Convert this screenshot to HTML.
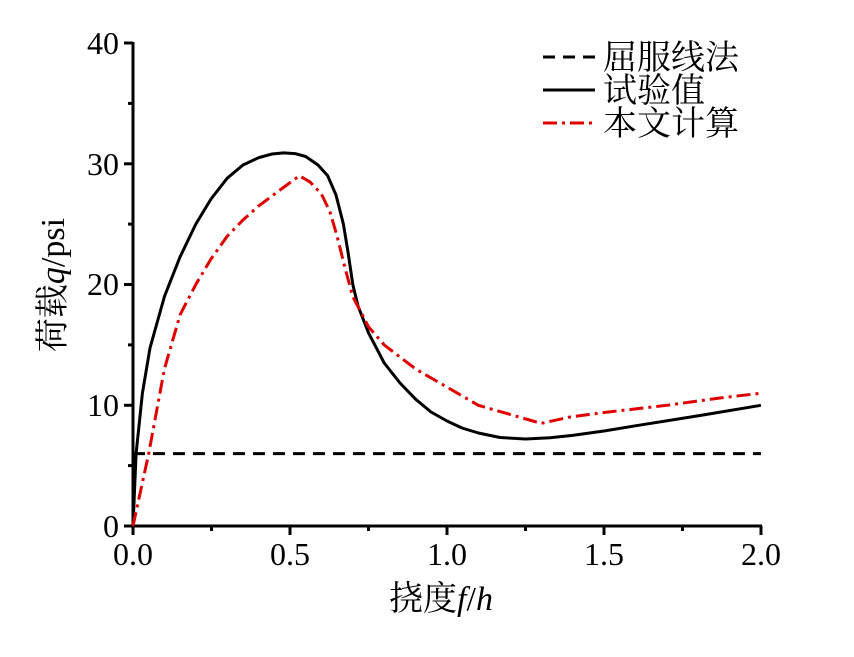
<!DOCTYPE html>
<html><head><meta charset="utf-8"><style>
body{margin:0;background:#fff}
svg text{font-family:"Liberation Serif","Noto Serif CJK SC",serif;fill:#000}
</style></head><body>
<svg width="854" height="652" viewBox="0 0 854 652" xmlns="http://www.w3.org/2000/svg">
<g stroke="#000" stroke-width="3" fill="none">
<line x1="133" y1="42" x2="133" y2="527"/>
<line x1="131.5" y1="526" x2="762" y2="526"/>
<line x1="124" y1="526" x2="133" y2="526"/>
<line x1="124" y1="405.3" x2="133" y2="405.3"/>
<line x1="124" y1="284.5" x2="133" y2="284.5"/>
<line x1="124" y1="163.8" x2="133" y2="163.8"/>
<line x1="124" y1="43" x2="133" y2="43"/>
<line x1="128" y1="465.6" x2="133" y2="465.6"/>
<line x1="128" y1="344.9" x2="133" y2="344.9"/>
<line x1="128" y1="224.1" x2="133" y2="224.1"/>
<line x1="128" y1="103.4" x2="133" y2="103.4"/>
<line x1="133" y1="526" x2="133" y2="535"/>
<line x1="290" y1="526" x2="290" y2="535"/>
<line x1="447" y1="526" x2="447" y2="535"/>
<line x1="604" y1="526" x2="604" y2="535"/>
<line x1="761" y1="526" x2="761" y2="535"/>
<line x1="211.5" y1="526" x2="211.5" y2="531"/>
<line x1="368.5" y1="526" x2="368.5" y2="531"/>
<line x1="525.5" y1="526" x2="525.5" y2="531"/>
<line x1="682.5" y1="526" x2="682.5" y2="531"/>
</g>
<g font-size="32">
<text x="119" y="537" text-anchor="end">0</text>
<text x="119" y="416" text-anchor="end">10</text>
<text x="119" y="295" text-anchor="end">20</text>
<text x="119" y="175" text-anchor="end">30</text>
<text x="119" y="54" text-anchor="end">40</text>
<text x="133" y="565" text-anchor="middle">0.0</text>
<text x="290" y="565" text-anchor="middle">0.5</text>
<text x="447" y="565" text-anchor="middle">1.0</text>
<text x="604" y="565" text-anchor="middle">1.5</text>
<text x="761" y="565" text-anchor="middle">2.0</text>
</g>
<g font-size="34">
<text x="441" y="610" text-anchor="middle">挠度<tspan font-style="italic">f</tspan>/<tspan font-style="italic">h</tspan></text>
<text transform="translate(64,285) rotate(-90)" text-anchor="middle">荷载<tspan font-style="italic">q</tspan>/psi</text>
<text x="603" y="69">屈服线法</text>
<text x="603" y="102">试验值</text>
<text x="603" y="135">本文计算</text>
</g>
<line x1="133" y1="453.6" x2="761" y2="453.6" stroke="#000" stroke-width="3" stroke-dasharray="12,8"/>
<polyline fill="none" stroke="#000" stroke-width="3" stroke-linejoin="round" points="133,526 136.1,453.6 142.4,393.2 150,348 164.4,296.6 180,257 195.8,224.1 211,199 227.2,178.2 243,165 258.6,157.7 272,154 283.7,152.9 295,153.6 305.7,156.5 318,165 327.7,175.8 336,195 343.4,224.1 348,252 352.8,284.5 358,306 368.5,332.8 384.2,363 400,383 415.6,399.2 431,412 447,421 462,428 478.4,433 500,437.5 525.5,439 550,437.8 572.6,435.4 604,431 635.4,425.8 700,415.5 761,405.3"/>
<polyline fill="none" stroke="#e00000" stroke-width="3" stroke-dasharray="14,5,3,5" points="133,526 148.7,453.6 164.4,369 180.1,314.7 195.8,284.5 211,259 227.2,236.2 243,220 258.6,206 280,190 299.4,175.8 310,182 321.4,193.9 330,212 337.1,236.2 345,268 352.8,296.6 368.5,326.8 384.2,344.9 415.6,369 447,387.1 478.4,405.3 541.2,423.4 570,417 604,412.5 666.8,405.3 720,398 761,393.2"/>
<line x1="543" y1="57" x2="595" y2="57" stroke="#000" stroke-width="3" stroke-dasharray="12,8"/>
<line x1="543" y1="90" x2="595" y2="90" stroke="#000" stroke-width="3"/>
<line x1="543" y1="123" x2="595" y2="123" stroke="#e00000" stroke-width="3" stroke-dasharray="14,5,3,5"/>
</svg>
</body></html>
